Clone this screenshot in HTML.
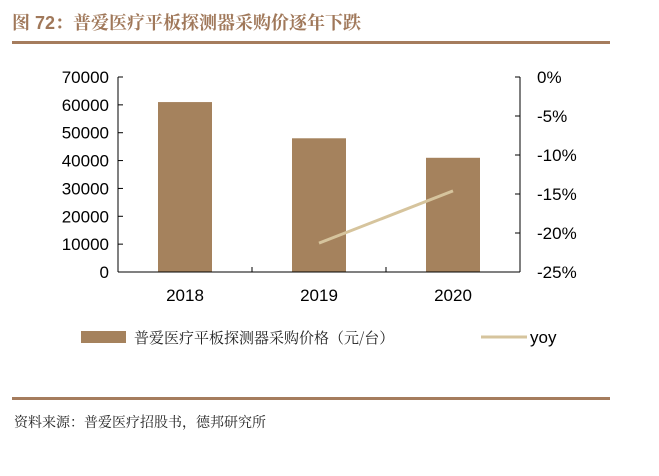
<!DOCTYPE html>
<html><head><meta charset="utf-8"><style>
body{margin:0;background:#fff;width:659px;height:471px;overflow:hidden;font-family:"Liberation Sans","Noto Sans CJK SC",sans-serif}
</style></head><body>
<svg width="659" height="471" xmlns="http://www.w3.org/2000/svg">
<text x="12" y="29" font-size="18" font-weight="bold" fill="#a0785a" font-family="'Liberation Sans','Noto Serif CJK SC',serif">图 72：普爱医疗平板探测器采购价逐年下跌</text>
<rect x="12" y="41" width="598" height="3" fill="#a57c5d"/>
<g id="plot"></g>
<rect x="81" y="331" width="45" height="12" fill="#a5825d"/>
<text x="134" y="343" font-size="15" fill="#222" font-family="'Noto Serif CJK SC',serif">普爱医疗平板探测器采购价格（元/台）</text>
<line x1="481" y1="337" x2="527" y2="337" stroke="#d6c49d" stroke-width="3"/>
<text x="530" y="343" font-size="17" fill="#000">yoy</text>
<rect x="12" y="397" width="598" height="3" fill="#a57c5d"/>
<text x="14" y="427" font-size="14" fill="#222" font-family="'Noto Serif CJK SC',serif">资料来源：普爱医疗招股书，德邦研究所</text>
</svg>
<script>
const categories=["2018","2019","2020"];
const prices=[61000,48000,41000];
const yoy=[null,-21.3,-14.6];
const leftTicks=[0,10000,20000,30000,40000,50000,60000,70000];
const rightTicks=[0,-5,-10,-15,-20,-25];
const NS="http://www.w3.org/2000/svg";
const plotG=document.getElementById('plot');
const yTop=77,yBot=272,lx=118,rx=520;
const yL=v=>yBot-(v/70000)*(yBot-yTop);
const yR=v=>yTop+(-v/25)*(yBot-yTop);
const xC=i=>lx+(rx-lx)*(i+0.5)/categories.length;
const xB=i=>lx+(rx-lx)*i/categories.length;
function mk(t,a,txt){const e=document.createElementNS(NS,t);for(const k in a)e.setAttribute(k,a[k]);if(txt!=null)e.textContent=txt;plotG.appendChild(e);return e;}
let el;
categories.forEach((c,i)=>{
el=mk('rect',{x:xC(i)-27,y:yL(prices[i]),width:54,height:yBot-yL(prices[i]),fill:'#a5825d'});


el=mk('text',{x:xC(i),y:yBot+29,'font-size':17,'text-anchor':'middle'},c);

});
for(let i=0;i<=categories.length;i++){mk('line',{x1:xB(i),y1:yBot-5,x2:xB(i),y2:yBot,stroke:'#000'});}
el=mk('line',{x1:lx,y1:yTop,x2:lx,y2:yBot,stroke:'#000'});


el=mk('line',{x1:rx,y1:yTop,x2:rx,y2:yBot,stroke:'#000'});


el=mk('line',{x1:lx,y1:yBot,x2:rx,y2:yBot,stroke:'#000'});


leftTicks.forEach(v=>{const y=yL(v);
mk('line',{x1:lx,y1:y,x2:lx+5,y2:y,stroke:'#000'});
el=mk('text',{x:lx-9,y:y+6,'font-size':17,'text-anchor':'end'},String(v));

});
rightTicks.forEach(v=>{const y=yR(v);
mk('line',{x1:rx-5,y1:y,x2:rx,y2:y,stroke:'#000'});
el=mk('text',{x:rx+17,y:y+6,'font-size':17},v+'%');

});
const pts=yoy.map((v,i)=>v==null?null:[xC(i),yR(v)]).filter(p=>p);
el=mk('polyline',{points:pts.map(p=>p.join(',')).join(' '),fill:'none',stroke:'#d6c49d','stroke-width':3});


</script>
</body></html>
